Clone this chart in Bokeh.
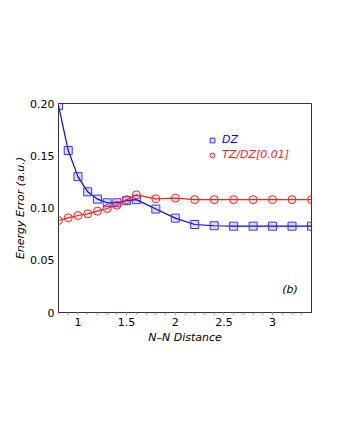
from bokeh.plotting import figure
from bokeh.models import Legend, LegendItem, Label, Range1d, FixedTicker, NumeralTickFormatter
from bokeh.embed import file_html
from bokeh.resources import INLINE

x = [0.8, 0.9, 1.0, 1.1, 1.2, 1.3, 1.4, 1.5, 1.6, 1.8, 2.0, 2.2, 2.4, 2.6, 2.8, 3.0, 3.2, 3.4]
dz = [0.198, 0.155, 0.130, 0.1155, 0.1085, 0.105, 0.105, 0.107, 0.108, 0.099, 0.0903,
      0.0842, 0.083, 0.0826, 0.0826, 0.0826, 0.0826, 0.0826]
tzdz = [0.088, 0.0906, 0.0928, 0.0944, 0.097, 0.0995, 0.1027, 0.108, 0.1126, 0.1088, 0.1094,
        0.108, 0.108, 0.108, 0.108, 0.108, 0.108, 0.108]
x_ticks = [1, 1.5, 2, 2.5, 3]
y_ticks = [0, 0.05, 0.10, 0.15, 0.20]

FONT = "DejaVu Sans"
BLUE = "#0000ff"
RED = "#ff2020"

p = figure(frame_width=253, frame_height=209, output_backend="svg", toolbar_location=None,
           x_range=Range1d(0.8, 3.4), y_range=Range1d(0, 0.2),
           min_border_left=58, min_border_top=103, min_border_right=19, min_border_bottom=40,
           background_fill_color="white", border_fill_color="white")
p.outline_line_color = "#333333"
p.outline_line_width = 1
p.grid.visible = False

l1 = p.line(x, dz, line_color=BLUE, line_width=1.2)
s1 = p.scatter(x, dz, marker="square", size=8, line_color="#3333ff", fill_color=BLUE, fill_alpha=0.12, line_width=1)
l2 = p.line(x, tzdz, line_color=RED, line_width=1.2)
s2 = p.scatter(x, tzdz, marker="circle", size=8, line_color=RED, fill_color=RED, fill_alpha=0.08, line_width=1)

p.xaxis.ticker = FixedTicker(ticks=x_ticks, minor_ticks=[0.8 + 0.1*i for i in range(27)])
p.yaxis.ticker = FixedTicker(ticks=y_ticks)
p.yaxis.formatter = NumeralTickFormatter(format="0.00")
p.xaxis.major_label_overrides = {1: "1", 2: "2", 3: "3"}
p.yaxis.major_label_overrides = {0: "0"}
for ax in (p.xaxis[0], p.yaxis[0]):
    ax.axis_line_color = "#333333"
    ax.major_tick_line_color = "#999999"
    ax.minor_tick_line_color = "#999999"
    ax.major_tick_out = 2
    ax.major_tick_in = 0
    ax.minor_tick_out = 2
    ax.minor_tick_in = 0
    ax.major_label_text_font = FONT
    ax.major_label_text_font_size = "11px"
    ax.major_label_text_color = "black"
    ax.axis_label_text_font = FONT
    ax.axis_label_text_font_size = "11px"
    ax.axis_label_text_font_style = "italic"
    ax.axis_label_text_color = "black"
p.yaxis.minor_tick_line_color = None
p.yaxis.major_tick_line_color = None
p.xaxis.axis_label = "N\u2013N Distance"
p.yaxis.axis_label = "Energy Error (a.u.)"
p.xaxis.axis_label_standoff = 2
p.yaxis.axis_label_standoff = 0
p.xaxis.major_label_standoff = 3
p.yaxis.major_label_standoff = 2

common = dict(label_text_font_style="italic", label_text_font=FONT,
              label_text_font_size="11px", border_line_color=None, background_fill_alpha=0,
              glyph_width=12, glyph_height=12, label_standoff=4, padding=0, margin=0,
              label_height=12)
leg1 = Legend(items=[LegendItem(label="DZ", renderers=[s1])], label_text_color=BLUE, **common)
leg2 = Legend(items=[LegendItem(label="TZ/DZ[0.01]", renderers=[s2])], label_text_color=RED, **common)
p.add_layout(leg1)
p.add_layout(leg2)
leg1.location = (148, 209 - 31 - 12)
leg2.location = (148, 209 - 46 - 12)

p.add_layout(Label(x=3.26, y=0.016, text="(b)", text_font=FONT, text_font_size="11px",
                   text_font_style="italic", text_align="right", text_color="black"))

open("out.html", "w").write(file_html(p, INLINE))
